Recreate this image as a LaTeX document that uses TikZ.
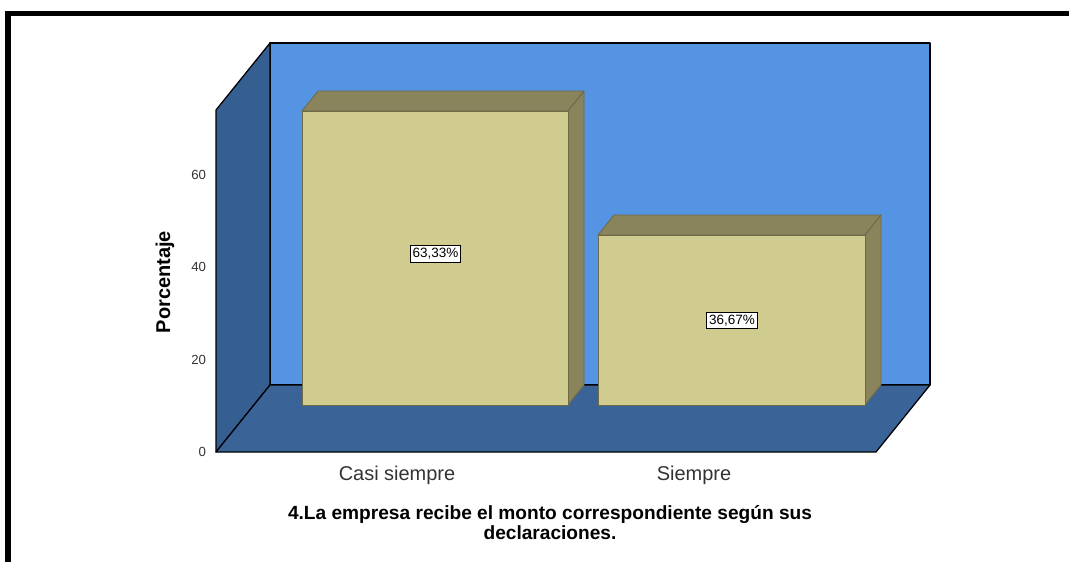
\documentclass[tikz,border=0pt]{standalone}
\usepackage{fontspec}
\setmainfont{Liberation Sans}
\usetikzlibrary{positioning}

\definecolor{backwall}{HTML}{5494E2}
\definecolor{sidewall}{HTML}{355E91}
\definecolor{floorcol}{HTML}{3A6398}
\definecolor{barfront}{HTML}{D0CB8F}
\definecolor{bartop}{HTML}{89845C}
\definecolor{baredge}{HTML}{6E6A48}

\begin{document}
\begin{tikzpicture}[
        x=0.025cm, y=-0.025cm,
        wall/.style={draw=black, line width=0.9pt, line join=round},
        barface/.style={draw=baredge, line width=0.6pt, line join=round},
        tick/.style={anchor=east, text=black!80, font=\fontsize{9.4}{11}\selectfont},
        category/.style={anchor=base, text=black!80, font=\fontsize{14.2}{17}\selectfont},
        valuebox/.style={draw=black, fill=white, inner xsep=1.6pt, inner ysep=2pt, line width=0.6pt, font=\fontsize{9.6}{11}\selectfont}
    ]
    \useasboundingbox (0,0) rectangle (1069,561);
    \clip (0,0) rectangle (1069,561);

    % Frame
    \draw[line width=3.6pt] (8,600) -- (8,13.5) -- (1100,13.5);

    % Walls
    \filldraw[wall, fill=backwall] (270,43) rectangle (930,385);
    \filldraw[wall, fill=sidewall] (216,110) -- (270,43) -- (270,385) -- (216,452) -- cycle;
    \filldraw[wall, fill=floorcol] (216,452) -- (270,385) -- (930,385) -- (876,452) -- cycle;

    % Bar: Casi siempre
    \filldraw[barface, fill=bartop] (302,111) -- (318,91) -- (584,91) -- (568,111) -- cycle;
    \filldraw[barface, fill=bartop] (568,111) -- (584,91) -- (584,385) -- (568,405) -- cycle;
    \filldraw[barface, fill=barfront] (302,111) rectangle (568,405);

    % Bar: Siempre
    \filldraw[barface, fill=bartop] (598,235) -- (614,215) -- (881,215) -- (865,235) -- cycle;
    \filldraw[barface, fill=bartop] (865,235) -- (881,215) -- (881,385) -- (865,405) -- cycle;
    \filldraw[barface, fill=barfront] (598,235) rectangle (865,405);

    % Value labels
    \node[valuebox] at (435.5,254) (value1) {63,33\%};
    \node[valuebox] at (732,320.5) (value2) {36,67\%};

    % Axis ticks
    \node[tick] at (211,452) (tick0) {0};
    \node[tick] at (211,359.5) (tick20) {20};
    \node[tick] at (211,267) (tick40) {40};
    \node[tick] at (211,174.5) (tick60) {60};

    % Axis title
    \node[rotate=90, font=\bfseries\fontsize{14.2}{16}\selectfont] at (165,282) (ylabel) {Porcentaje};

    % Categories
    \node[category] at (397,480.5) (cat1) {Casi siempre};
    \node[category] at (694,480.5) (cat2) {Siempre};

    % Title
    \node[align=center, font=\bfseries\fontsize{13.6}{12.2}\selectfont] at (550,522.5) (title)
        {4.La empresa recibe el monto correspondiente según sus\\declaraciones.};

\end{tikzpicture}
\end{document}
